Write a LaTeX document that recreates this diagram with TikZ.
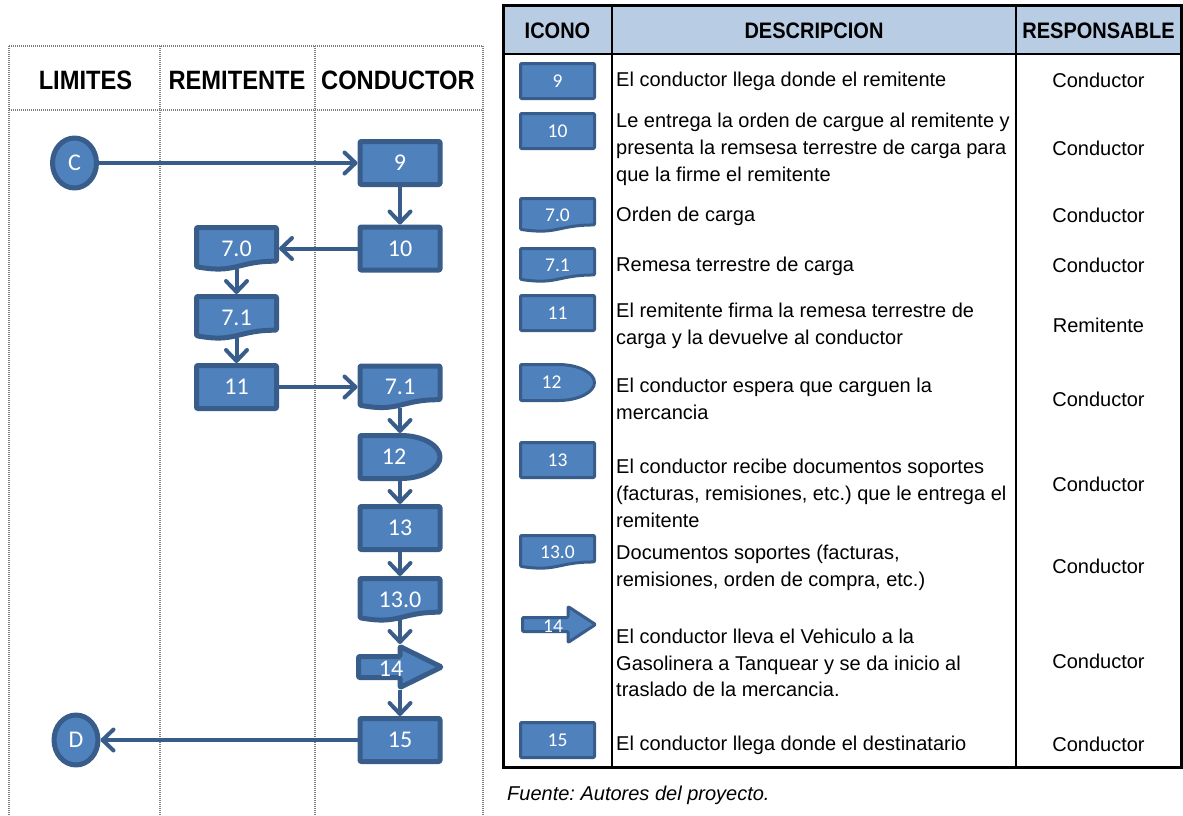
\documentclass[tikz,border=0pt]{standalone}
\usepackage{fontspec}
\setmainfont{Liberation Sans}
\newfontfamily\calibri{Carlito}
\usetikzlibrary{arrows.meta,calc,backgrounds,shapes.geometric}

\definecolor{shapefill}{HTML}{4F81BD}
\definecolor{shapeline}{HTML}{385D8A}
\definecolor{headfill}{HTML}{B8CCE4}
\definecolor{lanegray}{HTML}{808080}

% document symbol: flat top, wavy bottom (drawn around a named node)
\newcommand{\docshape}[4]{%
  \path[#1, shift={(#2.center)}]
    (-#3/2,-#4/2) -- (#3/2,-#4/2) -- (#3/2,0.302*#4)
    .. controls (0,0.302*#4) and (0,0.607*#4) .. (-#3/2,0.434*#4) -- cycle;}
% delay symbol: rectangle with a rounded right half
\newcommand{\delayshape}[4]{%
  \path[#1, shift={(#2.center)}]
    (-#3/2,-#4/2) -- (0,-#4/2)
    arc[start angle=-90, end angle=90, x radius=#3/2, y radius=#4/2]
    -- (-#3/2,#4/2) -- cycle;}
% block arrow pointing right: width, head base x, body half height, head half height
\newcommand{\arrowshape}[6]{%
  \path[#1, shift={(#2.center)}]
    (-#3/2,-#5) -- (#4,-#5) -- (#4,-#6) -- (#3/2,0) -- (#4,#6) -- (#4,#5)
    -- (-#3/2,#5) -- cycle;}
% lane titles are set slightly taller than wide
\newcommand{\tallhead}[1]{\scalebox{1}[1.12]{#1}}

\begin{document}
\frenchspacing
\begin{tikzpicture}[x=1pt, y=-1pt,
  lane/.style={draw=lanegray, line width=1.6pt, dash pattern=on 1.1pt off 0.9pt},
  lanehead/.style={font=\bfseries\fontsize{23.7}{24}\selectfont, inner sep=0pt},
  flowfont/.style={text=white, font=\calibri\fontsize{24}{24}\selectfont},
  iconfont/.style={text=white, font=\calibri\fontsize{19.5}{19.5}\selectfont},
  bigline/.style={fill=shapefill, draw=shapeline, line width=5pt, line join=round, rounded corners=1pt},
  smallline/.style={fill=shapefill, draw=shapeline, line width=3pt, line join=round, rounded corners=1pt},
  procbox/.style={bigline, flowfont, rectangle, minimum width=80pt, minimum height=43pt, inner sep=0pt},
  flowslot/.style={flowfont, rectangle, inner sep=0pt, outer sep=2.5pt, minimum width=80pt, minimum height=42pt},
  termnode/.style={bigline, flowfont, ellipse, minimum width=44pt, minimum height=50pt, inner sep=0pt},
  iconbox/.style={smallline, iconfont, rectangle, minimum width=74pt, minimum height=35pt, inner sep=0pt},
  iconslot/.style={iconfont, rectangle, inner sep=0pt, outer sep=1.5pt, minimum width=74pt, minimum height=33pt},
  flowarrow/.style={draw=shapeline, line width=4pt, -{Straight Barb[length=11pt,width=21pt,round]}},
  tablefont/.style={font=\fontsize{20}{26.8}\selectfont, inner sep=0pt},
  desc/.style={tablefont, anchor=west, align=left},
  resp/.style={tablefont, anchor=center},
  colhead/.style={font=\bfseries\fontsize{20}{20}\selectfont, inner sep=0pt}
]
\useasboundingbox (0,0) rectangle (1183,815);

% ---------- swimlanes ----------
\draw[lane] (9,46) -- (483,46);
\draw[lane] (9,110) -- (483,110);
\foreach \x in {9,160,315,483} \draw[lane] (\x,46) -- (\x,815);

\node[lanehead] (hlim) at (85.5,80) {\tallhead{LIMITES}};
\node[lanehead] (hrem) at (237,80) {\tallhead{REMITENTE}};
\node[lanehead] (hcon) at (398,80) {\tallhead{CONDUCTOR}};

% ---------- flowchart nodes ----------
\node[termnode] (C) at (74.5,163) {C};
\node[procbox] (n9) at (400,163) {9};
\node[procbox] (n10) at (400,248.5) {10};
\node[flowslot] (d70) at (236.5,248.5) {7.0};
\node[flowslot] (d71a) at (236.5,317.5) {7.1};
\node[procbox] (n11) at (236.5,387) {11};
\node[flowslot] (d71b) at (400,387) {7.1};
\node[flowslot, minimum height=43pt, label={[flowfont, xshift=-6pt]center:12}] (w12) at (400,457) {};
\node[procbox] (n13) at (400,528) {13};
\node[flowslot] (d130) at (400,599.5) {13.0};
\node[flowslot, minimum width=83pt, minimum height=41pt, label={[flowfont, xshift=-9pt, yshift=-2pt]center:14}] (a14) at (400,667) {};
\node[procbox] (n15) at (400,740) {15};
\node[termnode] (D) at (76,740) {D};

% ---------- table ----------
\fill[headfill] (503,5) rectangle (1181,54);
\draw[line width=2pt] (503,54) -- (1181,54);
\draw[line width=2pt] (612,5) -- (612,767);
\draw[line width=2pt] (1016,5) -- (1016,767);
\draw[line width=3pt] (503,5) rectangle (1181,767);

\node[colhead] (hico) at (557.5,31) {\tallhead{ICONO}};
\node[colhead] (hdes) at (814,31) {\tallhead{DESCRIPCION}};
\node[colhead] (hres) at (1098.5,31) {\tallhead{RESPONSABLE}};

% icons
\node[iconbox] (t9) at (557.5,81) {9};
\node[iconbox] (t10) at (557.5,131) {10};
\node[iconslot] (t70) at (557.5,215) {7.0};
\node[iconslot] (t71) at (557.5,265) {7.1};
\node[iconbox] (t11) at (557.5,313) {11};
\node[iconslot, minimum height=36pt, label={[iconfont, xshift=-6pt]center:12}] (t12) at (557.5,382.5) {};
\node[iconbox] (t13) at (557.5,460) {13};
\node[iconslot] (t130) at (557.5,552) {13.0};
\node[iconslot, minimum width=73pt, minimum height=36pt, label={[iconfont, xshift=-6pt, yshift=-2pt]center:14}] (t14) at (559,624.5) {};
\node[iconbox] (t15) at (557.5,740) {15};

% descriptions
\node[desc] (e9) at (616,81.5) {El conductor llega donde el remitente};
\node[desc] (e10) at (616,149.5) {Le entrega la orden de cargue al remitente y\\presenta la remsesa terrestre de carga para\\que la firme el remitente};
\node[desc] (e70) at (616,216.5) {Orden de carga};
\node[desc] (e71) at (616,266.5) {Remesa terrestre de carga};
\node[desc] (e11) at (616,326) {El remitente firma la remesa terrestre de\\carga y la devuelve al conductor};
\node[desc] (e12) at (616,399) {El conductor espera que carguen la\\mercancia};
\node[desc] (e13) at (616,493.5) {El conductor recibe documentos soportes\\(facturas, remisiones, etc.) que le entrega el\\remitente};
\node[desc] (e130) at (616,568) {Documentos soportes (facturas,\\remisiones, orden de compra, etc.)};
\node[desc] (e14) at (616,663) {El conductor lleva el Vehiculo a la\\Gasolinera a Tanquear y se da inicio al\\traslado de la mercancia.};
\node[desc] (e15) at (616,745.5) {El conductor llega donde el destinatario};

% responsible
\node[resp] (r9) at (1098.5,80) {Conductor};
\node[resp] (r10) at (1098.5,148) {Conductor};
\node[resp] (r70) at (1098.5,215) {Conductor};
\node[resp] (r71) at (1098.5,265) {Conductor};
\node[resp] (r11) at (1098.5,325) {Remitente};
\node[resp] (r12) at (1098.5,399) {Conductor};
\node[resp] (r13) at (1098.5,484) {Conductor};
\node[resp] (r130) at (1098.5,566) {Conductor};
\node[resp] (r14) at (1098.5,661) {Conductor};
\node[resp] (r15) at (1098.5,744) {Conductor};

\node[tablefont, anchor=west, font=\itshape\fontsize{20}{20}\selectfont] (src) at (507,795) {Fuente: Autores del proyecto.};

% ---------- special symbol outlines ----------
\begin{pgfonlayer}{background}
  \docshape{bigline}{d70}{80}{42}
  \docshape{bigline}{d71a}{80}{42}
  \docshape{bigline}{d71b}{80}{42}
  \delayshape{bigline}{w12}{80}{43}
  \docshape{bigline}{d130}{80}{42}
  \arrowshape{bigline}{a14}{83}{0}{10.5}{20.5}
  \docshape{smallline}{t70}{74}{33}
  \docshape{smallline}{t71}{74}{33}
  \delayshape{smallline}{t12}{74}{36}
  \docshape{smallline}{t130}{74}{33}
  \arrowshape{smallline}{t14}{73}{9}{7}{18}
\end{pgfonlayer}

% ---------- connectors ----------
\draw[flowarrow] (C.east) -- (n9.west);
\draw[flowarrow] (n9.south) -- (n10.north);
\draw[flowarrow] (n10.west) -- (d70.east);
\draw[flowarrow, shorten <=-3pt] (d70.south) -- (d71a.north);
\draw[flowarrow, shorten <=-3pt] (d71a.south) -- (n11.north);
\draw[flowarrow] (n11.east) -- (d71b.west);
\draw[flowarrow, shorten <=-3pt] (d71b.south) -- (w12.north);
\draw[flowarrow] (w12.south) -- (n13.north);
\draw[flowarrow] (n13.south) -- (d130.north);
\draw[flowarrow, shorten <=-3pt] (d130.south) -- (a14.north);
\draw[flowarrow] (a14.south) -- (n15.north);
\draw[flowarrow] (n15.west) -- (D.east);
\end{tikzpicture}
\end{document}
